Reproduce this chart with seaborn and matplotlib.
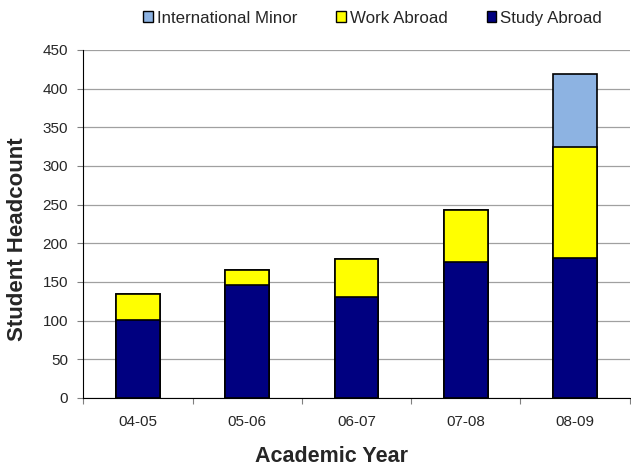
import numpy as np
import pandas as pd
import seaborn as sns
import matplotlib.pyplot as plt
from matplotlib.patches import Patch

years = ["04-05", "05-06", "06-07", "07-08", "08-09"]
study_abroad = [101, 146, 130, 176, 181]
work_abroad = [34, 20, 49, 67, 143]
intl_minor = [0, 0, 0, 0, 95]

colors = {"Study Abroad": "#000080", "Work Abroad": "#FFFF00", "International Minor": "#8DB3E2"}

sns.set_style("white")
plt.rcParams['font.family'] = ['Liberation Sans', 'DejaVu Sans']

df = pd.DataFrame({"year": years, "Study Abroad": study_abroad,
                   "Work Abroad": work_abroad, "International Minor": intl_minor})
df["cum_study"] = df["Study Abroad"]
df["cum_work"] = df["cum_study"] + df["Work Abroad"]
df["cum_minor"] = df["cum_work"] + df["International Minor"]

fig = plt.figure(figsize=(6.31, 4.66), dpi=100)
ax = fig.add_axes([0.132, 0.146, 0.866, 0.747])

# draw cumulative totals back to front so they look stacked
layers = [("cum_minor", "International Minor"), ("cum_work", "Work Abroad"), ("cum_study", "Study Abroad")]
for col, name in layers:
    sns.barplot(data=df, x="year", y=col, color=colors[name], width=0.4,
                edgecolor="black", linewidth=1.2, saturation=1, ax=ax, zorder=3)

ax.set_ylim(0, 450)
ax.set_xlim(-0.5, 4.5)
ax.set_yticks(np.arange(0, 451, 50))
ax.yaxis.grid(True, color="#a0a0a0", linewidth=0.9, zorder=0)
ax.set_axisbelow(True)
for s in ["top", "right"]:
    ax.spines[s].set_visible(False)
ax.spines["left"].set_color("black")
ax.spines["bottom"].set_color("black")

ax.set_xticks(np.arange(-0.5, 5, 1), minor=False)
ax.set_xticklabels([])
ax.set_xticks(np.arange(0, 5), minor=True)
ax.set_xticklabels(years, minor=True)
ax.tick_params(axis="x", which="major", direction="out", length=4, color="#808080", bottom=True)
ax.tick_params(axis="x", which="minor", length=0, labelsize=11, pad=12)
ax.tick_params(axis="y", direction="out", length=4, color="#808080", left=True, labelsize=11, pad=7)

ax.set_xlabel("Academic Year", fontsize=15.5, fontweight="bold", va="center")
ax.set_ylabel("Student Headcount", fontsize=16, fontweight="bold", va="center")
ax.xaxis.set_label_coords(0.455, -0.167)
ax.yaxis.set_label_coords(-0.12, 0.455)

handles = [Patch(facecolor=colors[n], edgecolor="black", label=n)
           for n in ["International Minor", "Work Abroad", "Study Abroad"]]
fig.legend(handles=handles, loc="upper right", bbox_to_anchor=(0.978, 1.01), ncol=3,
           frameon=False, fontsize=12.2, handlelength=0.55, handleheight=0.55,
           handletextpad=0.25, columnspacing=2.3)

fig.savefig("out.png", dpi=100)
